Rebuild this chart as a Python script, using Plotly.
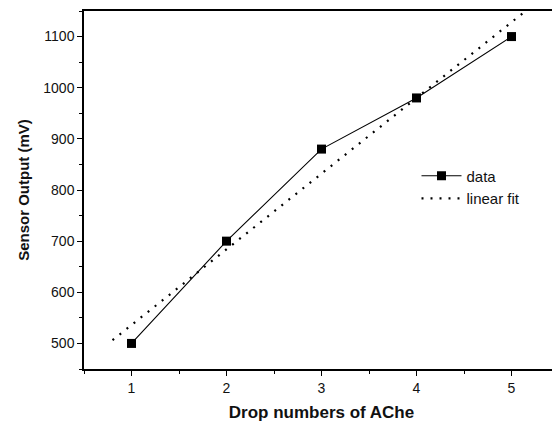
import numpy as np
import plotly.graph_objects as go

drops = [1, 2, 3, 4, 5]
output_mv = [500, 700, 880, 980, 1100]
fit_x = [0.8, 5.13]

slope, intercept = np.polyfit(drops, output_mv, 1)
fit_y = [slope * x + intercept for x in fit_x]

fig = go.Figure()
fig.add_trace(go.Scatter(
    x=drops, y=output_mv, mode="lines+markers", name="data",
    line=dict(color="black", width=1.1),
    marker=dict(symbol="square", size=9, color="black"),
))
fig.add_trace(go.Scatter(
    x=fit_x, y=fit_y, mode="lines", name="linear fit",
    line=dict(color="black", width=2.2, dash="2px,7px"),
))

font_family = "Liberation Sans, Arial"
axis_common = dict(
    showgrid=False, zeroline=False, showline=True, linecolor="black", linewidth=1.5,
    ticks="outside", ticklen=5, tickwidth=1, tickcolor="black",
    tickfont=dict(family=font_family, size=14, color="#111"),
)
fig.update_xaxes(
    range=[0.5, 5.5], tickvals=drops, ticktext=[str(d) for d in drops], mirror=True,
    minor=dict(dtick=0.5, tick0=0.5, ticks="outside", ticklen=3, tickcolor="black"),
    title=dict(text="<b>Drop numbers of AChe</b>", font=dict(family=font_family, size=17, color="#111"), standoff=12),
    **axis_common,
)
fig.update_yaxes(
    range=[450, 1150], tickvals=[500, 600, 700, 800, 900, 1000, 1100], mirror=False,
    minor=dict(dtick=50, tick0=450, ticks="outside", ticklen=3, tickcolor="black"),
    title=dict(text="<b>Sensor Output (mV)</b>", font=dict(family=font_family, size=15, color="#111"), standoff=10),
    **axis_common,
)
fig.add_shape(type="line", xref="paper", yref="paper", x0=1, x1=1, y0=0, y1=1,
              line=dict(color="#999", width=1, dash="2px,2px"))
fig.update_layout(
    width=552, height=416,
    margin=dict(l=76, r=1, t=1, b=55),
    plot_bgcolor="white", paper_bgcolor="white",
    legend=dict(x=0.7, y=0.585, xanchor="left", yanchor="top",
                font=dict(family=font_family, size=15, color="#111"),
                bgcolor="rgba(0,0,0,0)", itemwidth=40, tracegroupgap=0),
    showlegend=True,
)
fig.write_html("out.html")
